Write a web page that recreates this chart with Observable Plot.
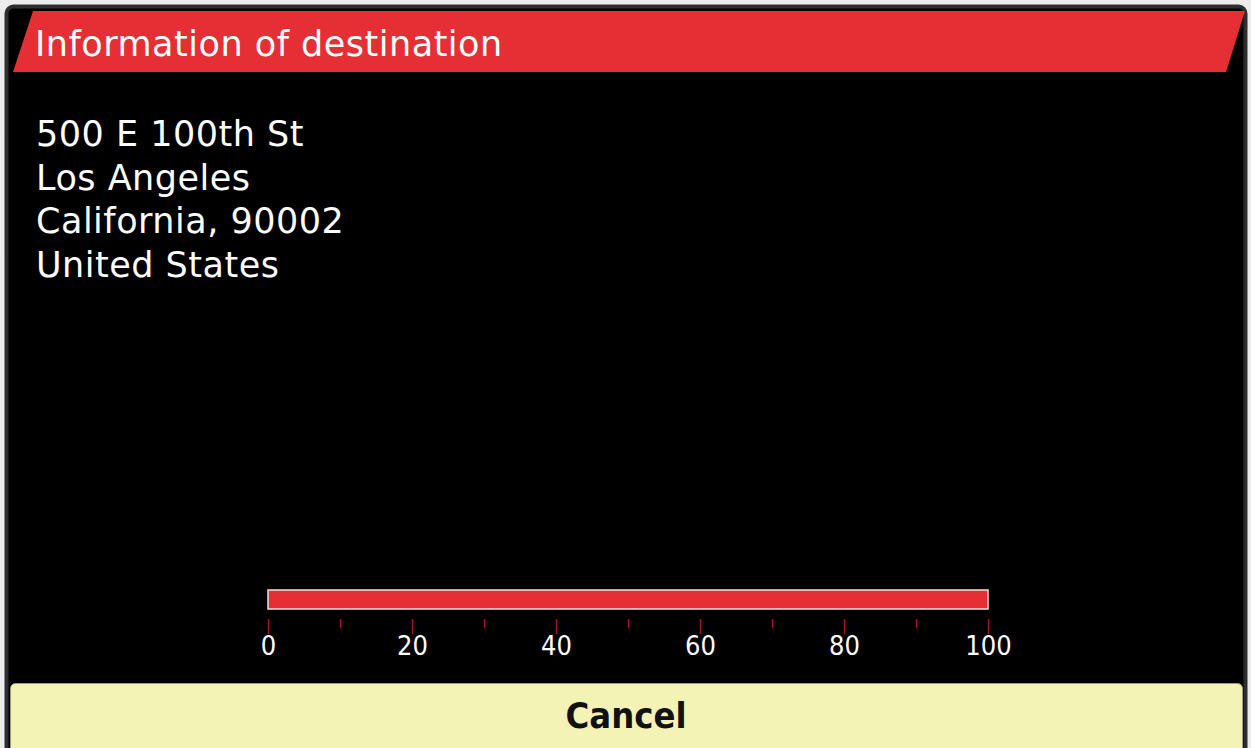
<!DOCTYPE html>
<html>
<head>
<meta charset="utf-8">
<script src="https://cdn.jsdelivr.net/npm/d3@7"></script>
<script src="https://cdn.jsdelivr.net/npm/@observablehq/plot@0.6"></script>
<style>
  html, body { margin: 0; padding: 0; }
  body { width: 1251px; height: 748px; overflow: hidden; position: relative; background: #ececec;
         font-family: "DejaVu Sans", sans-serif; }
  #chrome { position: absolute; left: 0; top: 0; }
  #chart { position: absolute; left: 0; top: 580px; }
</style>
</head>
<body>
<script>
// ---- data ----
const title = "Information of destination";
const addressLines = ["500 E 100th St", "Los Angeles", "California, 90002", "United States"];
const progress = [{from: 0, to: 100}];
const majorTicks = [0, 20, 40, 60, 80, 100];
const minorTicks = [10, 30, 50, 70, 90];
const buttonLabel = "Cancel";

// ---- chrome (dialog frame, header, address, button) ----
const NS = "http://www.w3.org/2000/svg";
const chrome = document.createElementNS(NS, "svg");
chrome.setAttribute("id", "chrome");
chrome.setAttribute("width", 1251);
chrome.setAttribute("height", 748);
function el(tag, attrs, text) {
  const e = document.createElementNS(NS, tag);
  for (const k in attrs) e.setAttribute(k, attrs[k]);
  if (text != null) e.textContent = text;
  chrome.appendChild(e);
  return e;
}
el("rect", {x: 6.5, y: 6.5, width: 1239, height: 770, rx: 7, fill: "#000", stroke: "#2e2e2e", "stroke-width": 4});
el("polygon", {points: "33,11 1245,11 1226,72 13,72", fill: "#e52f34"});
el("text", {x: 35, y: 56, fill: "#fff", "font-size": 35, "letter-spacing": 0.5}, title);
addressLines.forEach((t, i) => el("text", {x: 36, y: 146 + i * 43.7, fill: "#fff", "font-size": 35, "letter-spacing": 0.5}, t));
el("rect", {x: 10.5, y: 683.5, width: 1232, height: 90, rx: 5, fill: "#f3f3b6", stroke: "#9a9a80", "stroke-width": 1});
el("text", {x: 626, y: 728, fill: "#111", "font-size": 36, "font-weight": "bold", "font-stretch": "condensed",
            "font-family": "'DejaVu Sans Condensed', 'DejaVu Sans', sans-serif", "text-anchor": "middle"}, buttonLabel);
document.body.appendChild(chrome);

// ---- progress bar drawn with Plot ----
const chart = Plot.plot({
  width: 1251,
  height: 90,
  marginLeft: 268,
  marginRight: 263,
  marginTop: 10,
  marginBottom: 61,
  style: {background: "transparent", color: "#fff", fontFamily: "'DejaVu Sans Condensed', 'DejaVu Sans', sans-serif", overflow: "visible"},
  x: {domain: [0, 100], label: null},
  marks: [
    Plot.rectX(progress, {x1: "from", x2: "to", fill: "#e52f34", stroke: "#efe2e2", strokeWidth: 1.5}),
    Plot.axisX(minorTicks, {anchor: "bottom", tickSize: 9, dy: 10, stroke: "#a3141d", strokeWidth: 1.5, tickFormat: () => "", label: null}),
    Plot.axisX(majorTicks, {anchor: "bottom", tickSize: 15, dy: 10, tickPadding: 1, stroke: "#a3141d", strokeWidth: 1.5, fill: "#fff", fontSize: 27, tickFormat: d => String(d), label: null})
  ]
});
chart.setAttribute("id", "chart");
document.body.appendChild(chart);
</script>
</body>
</html>
